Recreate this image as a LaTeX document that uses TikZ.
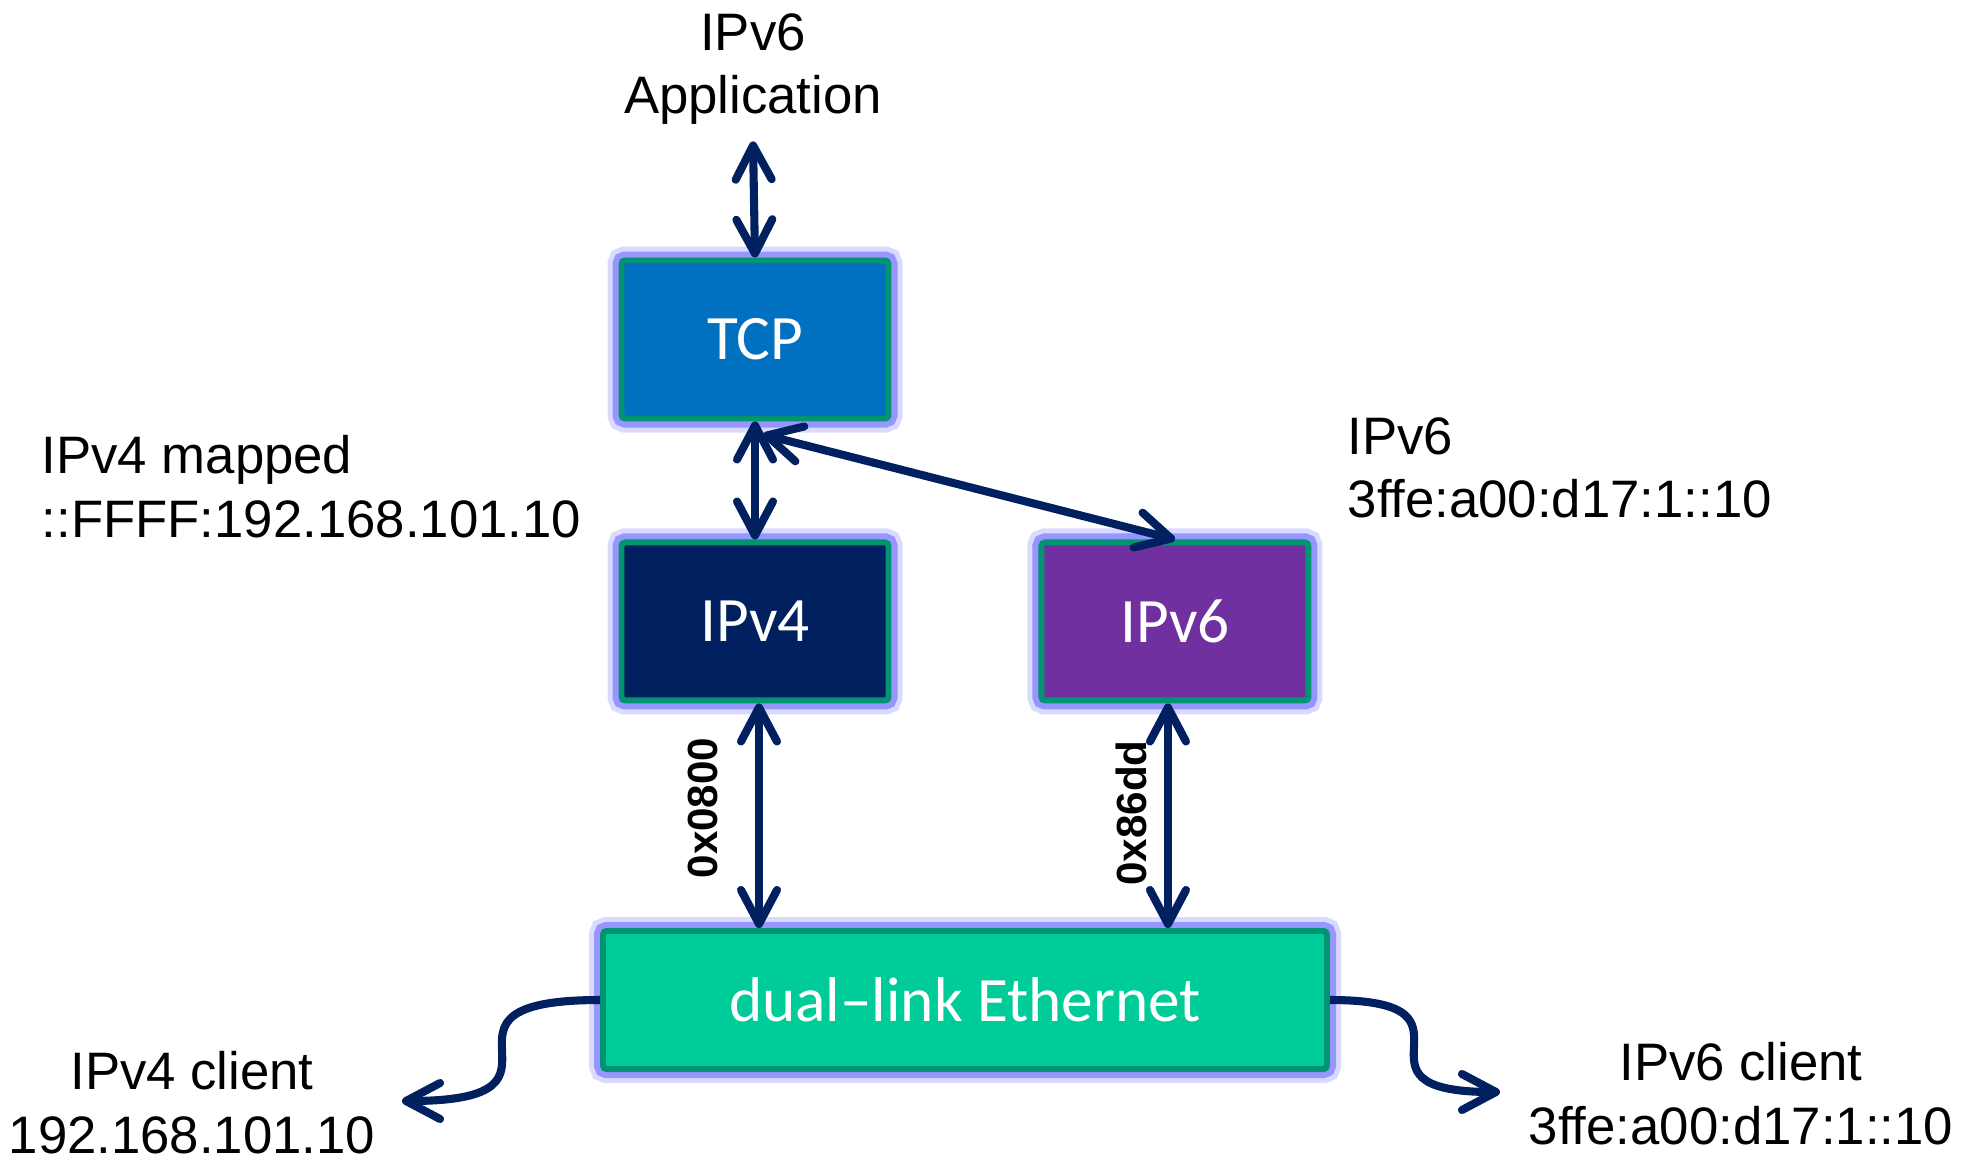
\documentclass[tikz,border=0pt]{standalone}
\usepackage{fontspec}
\setmainfont{Liberation Sans}
\newfontfamily\boxfont{Carlito}
\usepackage{xcolor}
\usetikzlibrary{arrows.meta, positioning, calc}

\definecolor{navy}{RGB}{0,32,96}
\definecolor{tcpblue}{RGB}{0,112,192}
\definecolor{vfourblue}{RGB}{0,32,96}
\definecolor{vsixpurple}{RGB}{112,48,160}
\definecolor{ethgreen}{RGB}{0,204,153}
\definecolor{rimgreen}{RGB}{0,148,112}
\definecolor{glow}{RGB}{150,150,255}

\begin{document}
\begin{tikzpicture}[
    node distance=1.2cm,
    >={Straight Barb[length=3.4mm, width=3.6mm, round]},
    layer/.style={rectangle, draw=rimgreen, line width=1.7pt, rounded corners=1pt, text=white,
        font=\boxfont\fontsize{18}{21}\selectfont, minimum width=2.67cm, minimum height=1.58cm,
        preaction={draw=glow, draw opacity=0.35, line width=0.28cm},
        preaction={draw=glow, line width=0.18cm}},
    plain/.style={inner sep=0pt, font=\fontsize{15}{18}\selectfont},
    hexlabel/.style={inner sep=0pt, font=\bfseries\fontsize{12}{14}\selectfont, rotate=90},
    link/.style={draw=navy, line width=2.3pt}
]
\useasboundingbox (0,0) rectangle (19.65,-11.6);

% Protocol stack
\node[layer, fill=tcpblue] (tcp) at (7.55,-3.395) {TCP};
\node[layer, fill=vfourblue, below=1.18cm of tcp] (ipv4) {IPv4};
\node[layer, fill=vsixpurple, right=1.47cm of ipv4] (ipv6) {IPv6};
\node[layer, fill=ethgreen, minimum width=7.24cm, minimum height=1.38cm] (eth) at (9.65,-10.0) {dual–link Ethernet};

% Addresses
\node[plain, anchor=north, align=center] (app) at (7.53,-0.13) {IPv6\\Application};
\node[plain, anchor=north west, align=left] (mapped) at (0.41,-4.35) {IPv4 mapped\\::FFFF:192.168.101.10};
\node[plain, anchor=north west, align=left] (v6addr) at (13.47,-4.17) {IPv6\\3ffe:a00:d17:1::10};
\node[plain, anchor=north, align=center] (v4client) at (1.92,-10.51) {IPv4 client\\192.168.101.10};
\node[plain, anchor=north, align=center] (v6client) at (17.41,-10.42) {IPv6 client\\3ffe:a00:d17:1::10};

% Ethertypes
\node[hexlabel] (type4) at (7.03,-8.08) {0x0800};
\node[hexlabel] (type6) at (11.31,-8.13) {0x86dd};

% Links
\draw[link, <->] (tcp.north) -- ([yshift=-1.6mm]app.south);
\draw[link, <->] (tcp.south) -- (ipv4.north);
\draw[link, <->] ([xshift=0.8mm, yshift=-1.3mm]tcp.south) -- (ipv6.north);
\draw[link, <->] ($(ipv4.south)+(0.04,0)$) -- ($(ipv4.south |- eth.north)+(0.04,0)$);
\draw[link, <->] ($(ipv6.south)+(-0.07,0)$) -- ($(ipv6.south |- eth.north)+(-0.07,0)$);

\coordinate (v4tip) at (4.02,-11.01);
\coordinate (v6tip) at (15.0,-10.92);
\draw[link, ->] (eth.west) .. controls +(-1.98,0) and +(1.98,0) .. (v4tip);
\draw[link, ->] (eth.east) .. controls +(1.7,0) and +(-1.7,0) .. (v6tip);

\end{tikzpicture}
\end{document}
